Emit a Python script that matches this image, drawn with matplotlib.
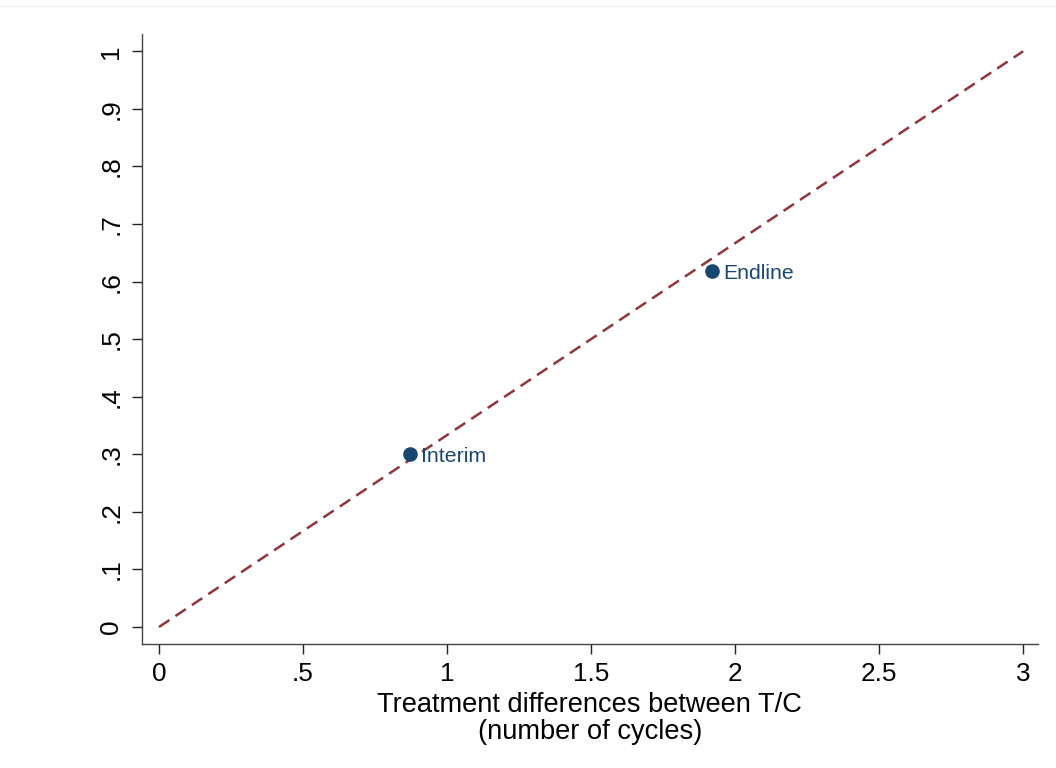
import matplotlib.pyplot as plt
from matplotlib.lines import Line2D
import numpy as np

plt.rcParams['font.family'] = ['Liberation Sans', 'DejaVu Sans']

# reference line (power vs. treatment difference)
line_x = [0, 3]
line_y = [0, 1]

# survey rounds
rounds = ['Interim', 'Endline']
round_x = [0.871, 1.92]
round_y = [0.30, 0.618]

xticks = [0, 0.5, 1, 1.5, 2, 2.5, 3]
xticklabels = ['0', '.5', '1', '1.5', '2', '2.5', '3']
yticks = [0, .1, .2, .3, .4, .5, .6, .7, .8, .9, 1]
yticklabels = ['0', '.1', '.2', '.3', '.4', '.5', '.6', '.7', '.8', '.9', '1']

navy = '#1a476f'
maroon = '#90353b'

fig = plt.figure(figsize=(10.56, 7.68), dpi=100)
ax = fig.add_axes([0.1342, 0.1615, 0.983 - 0.1342, 0.9557 - 0.1615])

ln, = ax.plot(line_x, line_y, color=maroon, lw=1.8)
ln.set_dashes([5.0, 2.9])

ax.plot(round_x, round_y, 'o', color=navy, ms=9.5, zorder=3)
for name, x, y in zip(rounds, round_x, round_y):
    ax.annotate(name, (x, y), xytext=(8, -1.5), textcoords='offset points',
                va='center', ha='left', color=navy, fontsize=15.3)

ax.set_xlim(-0.06, 3.052)
ax.set_ylim(-0.0295, 1.03)
ax.set_xticks(xticks)
ax.set_xticklabels(xticklabels)
ax.set_yticks(yticks)
ax.set_yticklabels(yticklabels, rotation=90, va='center')

for s in ['top', 'right']:
    ax.spines[s].set_visible(False)
for s in ['left', 'bottom']:
    ax.spines[s].set_color('#444444')
    ax.spines[s].set_linewidth(1.0)
ax.tick_params(direction='out', length=7.2, width=1.0, color='#222222',
               labelsize=18.8, pad=6)

ax.set_xlabel('Treatment differences between T/C\n(number of cycles)',
              fontsize=19.6, linespacing=1.08, labelpad=4)

fig.add_artist(Line2D([0, 1], [1 - 6 / 768, 1 - 6 / 768], color='#eef1f4', lw=1))

fig.savefig('out.png', dpi=100)
